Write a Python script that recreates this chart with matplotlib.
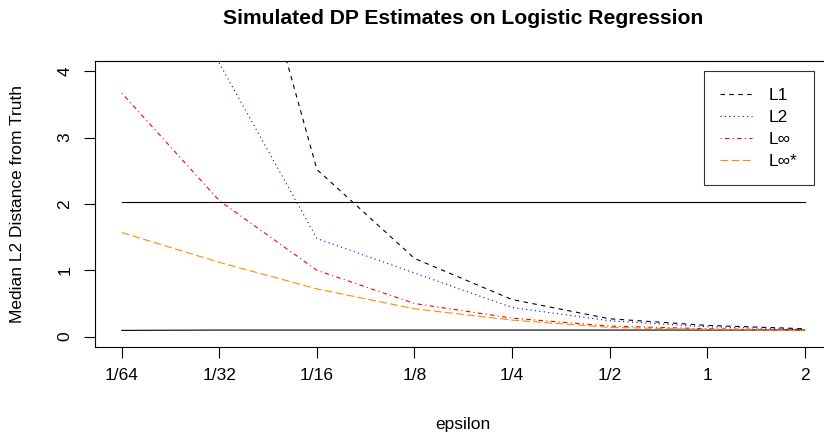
import matplotlib
matplotlib.use("Agg")
import matplotlib.pyplot as plt
import numpy as np

plt.rcParams["font.family"] = ["Liberation Sans", "DejaVu Sans"]

# -------- data --------
eps_labels = ["1/64", "1/32", "1/16", "1/8", "1/4", "1/2", "1", "2"]
l1 = [15.0, 7.8, 2.52, 1.18, 0.56, 0.27, 0.17, 0.12]
l2 = [9.0, 4.12, 1.48, 0.96, 0.44, 0.24, 0.15, 0.11]
linf = [3.67, 2.05, 1.0, 0.5, 0.28, 0.16, 0.12, 0.10]
linf_star = [1.57, 1.12, 0.72, 0.42, 0.25, 0.14, 0.11, 0.09]
upper_ref = [2.03] * 8
lower_ref = [0.095, 0.1, 0.1, 0.1, 0.1, 0.1, 0.1, 0.1]

x = np.arange(len(eps_labels))
W, H = 824, 434
fs = 12.5

fig = plt.figure(figsize=(W / 100, H / 100), dpi=100)
# plot region runs a bit past the right edge of the picture (as in the reference)
ax = fig.add_axes([94.5 / W, 1 - 347.3 / H, (832 - 94.5) / W, (347.3 - 60.7) / H])

lw = 0.8
ax.plot(x, upper_ref, color="black", lw=lw)
ax.plot(x, lower_ref, color="black", lw=lw)
ax.plot(x, l1, color="black", lw=lw, dashes=(4, 4), label="L1")
ax.plot(x, l2, color="blue", lw=lw, dashes=(1, 3), label="L2")
ax.plot(x, linf, color="red", lw=lw, dashes=(1, 3, 4, 3), label="L\u221e")
ax.plot(x, linf_star, color="darkorange", lw=lw, dashes=(7, 3), label="L\u221e*")

ax.set_xlim(-0.28, 7.28)
ax.set_ylim(-0.16, 4.16)
ax.set_xticks(x)
ax.set_xticklabels(eps_labels)
ax.set_yticks([0, 1, 2, 3, 4])
ax.set_yticklabels(["0", "1", "2", "3", "4"], rotation=90, va="center")
ax.tick_params(direction="out", length=8, width=0.8, labelsize=fs)
ax.tick_params(axis="x", pad=7)
ax.tick_params(axis="y", pad=8)
for s in ax.spines.values():
    s.set_linewidth(0.8)

ax.set_xlabel("epsilon", fontsize=fs)
ax.xaxis.set_label_coords(463 / W, 1 - 425 / H, transform=fig.transFigure)
ax.xaxis.label.set_va("center")
ax.set_ylabel("Median L2 Distance from Truth", fontsize=fs)
ax.yaxis.set_label_coords(18 / W, 1 - 204 / H, transform=fig.transFigure)
ax.yaxis.label.set_va("center")

fig.text(463 / W, 1 - 24 / H, "Simulated DP Estimates on Logistic Regression",
         fontsize=15.2, fontweight="bold", ha="center", va="baseline")

leg = ax.legend(loc="upper center", bbox_to_anchor=(759 / W, 1 - 71 / H),
                bbox_transform=fig.transFigure, fontsize=fs, frameon=True,
                fancybox=False, edgecolor="black", handlelength=1.8,
                borderpad=0.95, labelspacing=0.4, handletextpad=1.0,
                borderaxespad=0)
leg.get_frame().set_linewidth(0.8)

fig.savefig("out.png", dpi=100)
